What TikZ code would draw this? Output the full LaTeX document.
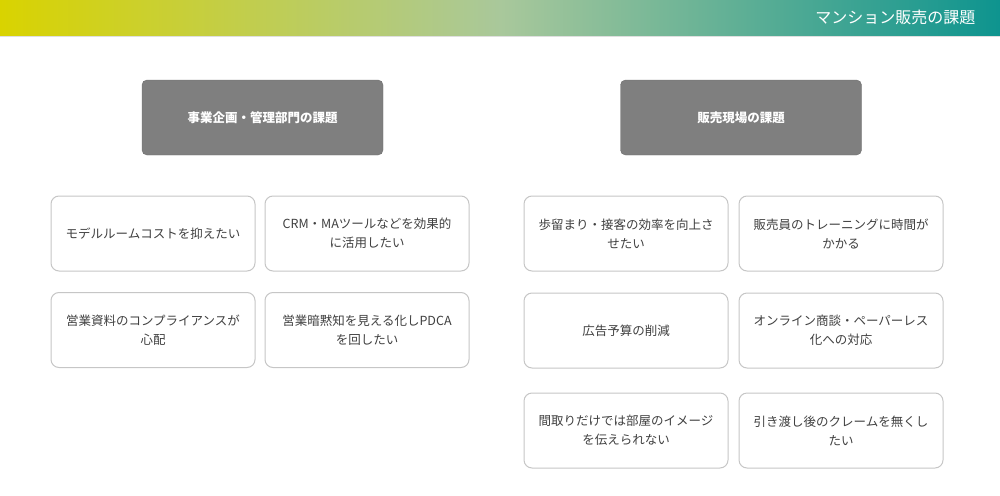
\documentclass[tikz,border=0pt]{standalone}
\usepackage{fontspec}
\newfontfamily\cjk{Noto Sans CJK JP}
\newfontfamily\cjkbold{Noto Sans CJK JP Bold}
\definecolor{bannerleft}{HTML}{D9D300}
\definecolor{bannermid}{HTML}{A9C89B}
\definecolor{bannerright}{HTML}{0E948F}
\definecolor{headfill}{HTML}{7F7F7F}
\definecolor{headline}{HTML}{6E6E6E}
\definecolor{itemline}{HTML}{C6C6C6}
\definecolor{itemtext}{HTML}{404040}
\tikzset{
  headbox/.style={draw=headline, fill=headfill, rounded corners=5pt,
    minimum width=241pt, minimum height=75pt, text=white,
    font=\cjk\bfseries\fontsize{12.5}{16}\selectfont},
  itembox/.style={draw=itemline, line width=1pt, fill=white, rounded corners=8pt,
    minimum width=204pt, minimum height=75pt, text=itemtext, align=center,
    font=\cjk\fontsize{12.5}{19}\selectfont}
}
\begin{document}
\begin{tikzpicture}[x=1pt,y=-1pt]
      \useasboundingbox (0,0) rectangle (1000,495);
      % banner
      \shade[left color=bannerleft, right color=bannerright, middle color=bannermid]
        (0,0) rectangle (1000,36);
      \draw[black!25, opacity=0.5] (0,36.5) -- (1000,36.5);
      \node[anchor=east, text=white, font=\cjk\fontsize{16}{18}\selectfont]
        (title) at (979,17) {マンション販売の課題};
      % headers
      \node[headbox] (plan) at (262.5,117.5) {事業企画・管理部門の課題};
      \node[headbox] (site) at (741,117.5) {販売現場の課題};
      % planning side
      \node[itembox] (a1) at (153,233.5) {モデルルームコストを抑えたい};
      \node[itembox] (a2) at (367,233.5) {CRM・MAツールなどを効果的\\に活用したい};
      \node[itembox] (a3) at (153,330) {営業資料のコンプライアンスが\\心配};
      \node[itembox] (a4) at (367,330) {営業暗黙知を見える化しPDCA\\を回したい};
      % site side
      \node[itembox] (b1) at (626,233.5) {歩留まり・接客の効率を向上さ\\せたい};
      \node[itembox] (b2) at (841,233.5) {販売員のトレーニングに時間が\\かかる};
      \node[itembox] (b3) at (626,330.5) {広告予算の削減};
      \node[itembox] (b4) at (841,330.5) {オンライン商談・ペーパーレス\\化への対応};
      \node[itembox] (b5) at (626,430.5) {間取りだけでは部屋のイメージ\\を伝えられない};
      \node[itembox] (b6) at (841,430.5) {引き渡し後のクレームを無くし\\たい};
    \end{tikzpicture}
\end{document}
